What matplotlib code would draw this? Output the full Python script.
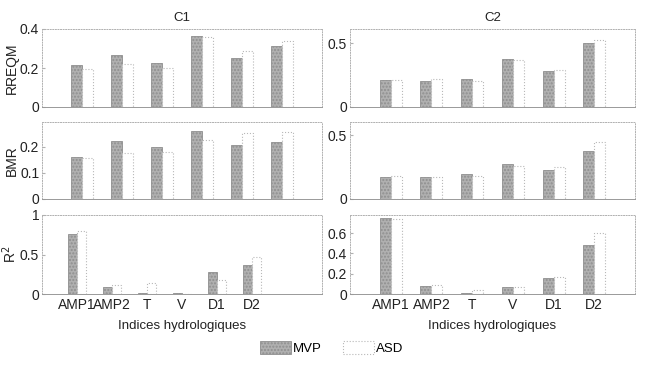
import matplotlib
matplotlib.use("Agg")
import matplotlib.pyplot as plt
import numpy as np
from matplotlib.patches import Patch

plt.rcParams['font.family'] = ['Liberation Sans', 'DejaVu Sans']

categories = ["AMP1", "AMP2", "T", "V", "D1", "D2"]
series = ["MVP", "ASD"]

# C1
c1_rreqm_mvp = [0.215, 0.267, 0.224, 0.364, 0.253, 0.313]
c1_rreqm_asd = [0.195, 0.219, 0.202, 0.357, 0.287, 0.340]
c1_bmr_mvp = [0.161, 0.223, 0.198, 0.260, 0.207, 0.217]
c1_bmr_asd = [0.156, 0.176, 0.181, 0.226, 0.252, 0.256]
c1_r2_mvp = [0.757, 0.093, 0.017, 0.010, 0.276, 0.361]
c1_r2_asd = [0.796, 0.119, 0.144, 0.005, 0.183, 0.468]
# C2
c2_rreqm_mvp = [0.212, 0.207, 0.220, 0.377, 0.283, 0.505]
c2_rreqm_asd = [0.208, 0.220, 0.204, 0.367, 0.290, 0.528]
c2_bmr_mvp = [0.171, 0.171, 0.194, 0.276, 0.231, 0.381]
c2_bmr_asd = [0.178, 0.176, 0.181, 0.260, 0.255, 0.447]
c2_r2_mvp = [0.746, 0.081, 0.005, 0.071, 0.156, 0.480]
c2_r2_asd = [0.745, 0.088, 0.039, 0.070, 0.168, 0.603]

ylabels = ["RREQM", "BMR", "R$^2$"]
titles = ["C1", "C2"]
xlabel = "Indices hydrologiques"

W, H = 654, 368
fig = plt.figure(figsize=(W / 100, H / 100), dpi=100)

col_x = [(42, 322), (350, 635)]
row_y = [(29, 107), (122, 199), (215, 294)]

data = [
    [(c1_rreqm_mvp, c1_rreqm_asd), (c2_rreqm_mvp, c2_rreqm_asd)],
    [(c1_bmr_mvp, c1_bmr_asd), (c2_bmr_mvp, c2_bmr_asd)],
    [(c1_r2_mvp, c1_r2_asd), (c2_r2_mvp, c2_r2_asd)],
]
ylims = [[0.4, 0.612], [0.295, 0.605], [1.0, 0.78]]
yticks = [[[0, 0.2, 0.4], [0, 0.5]],
          [[0, 0.1, 0.2], [0, 0.5]],
          [[0, 0.5, 1], [0, 0.2, 0.4, 0.6]]]
xlims = [[7, 7], [7, 7], [8, 7]]

mvp_face = "#b0b0b0"
mvp_edge = "#8f8f8f"
asd_edge = "#b8b8b8"
spine_col = "#b0b0b0"
w = 0.27

for r in range(3):
    for c in range(2):
        x0, x1 = col_x[c]
        yt, yb = row_y[r]
        ax = fig.add_axes([x0 / W, 1 - yb / H, (x1 - x0) / W, (yb - yt) / H])
        mvp, asd = data[r][c]
        x = np.arange(1, len(categories) + 1)
        ax.bar(x - w / 2, mvp, width=w, color=mvp_face, edgecolor=mvp_edge, linewidth=0.6, hatch='.....')
        ax.bar(x + w / 2, asd, width=w, color="white", edgecolor=asd_edge, linewidth=0.8, linestyle=':')
        ax.set_xlim(0, xlims[r][c])
        ax.set_ylim(0, ylims[r][c])
        ax.set_yticks(yticks[r][c])
        ax.set_yticklabels([f"{v:g}" for v in yticks[r][c]])
        ax.set_xticks(x)
        if r == 2:
            ax.set_xticklabels(categories, fontsize=9.5)
            ax.set_xlabel(xlabel, fontsize=9.5, labelpad=6, color="#222222")
        else:
            ax.set_xticklabels([])
        if c == 0:
            ax.set_ylabel(ylabels[r], fontsize=10, labelpad=1, color="#222222")
        if r == 0:
            ax.set_title(titles[c], fontsize=9.5, pad=6, color="#222222")
        ax.tick_params(axis='both', direction='in', length=2, colors=spine_col,
                       labelcolor="#222222", labelsize=10, pad=2)
        ax.tick_params(axis='x', length=0, pad=3)
        for s in ax.spines.values():
            s.set_color(spine_col)
            s.set_linewidth(0.7)
            s.set_linestyle(':')
        ax.spines['bottom'].set_linestyle('-')
        ax.spines['bottom'].set_color("#999999")

handles = [Patch(facecolor=mvp_face, edgecolor=mvp_edge, hatch='.....', linewidth=0.6, label="MVP"),
           Patch(facecolor="white", edgecolor=asd_edge, linestyle=':', linewidth=0.8, label="ASD")]
fig.legend(handles=handles, loc='center', bbox_to_anchor=(332 / W, 1 - 348 / H), ncol=2,
           frameon=False, fontsize=9.5, handlelength=2.3, handleheight=1.1,
           handletextpad=0.2, columnspacing=1.6)

fig.savefig("out.png", dpi=100)
